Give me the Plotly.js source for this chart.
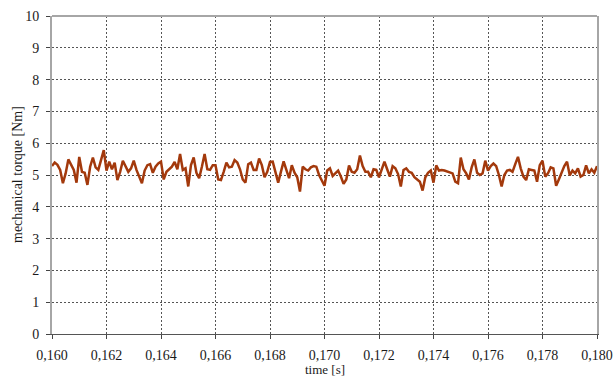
<!DOCTYPE html>
<html>
<head>
<meta charset="utf-8">
<script src="https://cdn.plot.ly/plotly-3.0.1.min.js"></script>
<style>
  html, body { margin: 0; padding: 0; background: #fff; }
  #chart { width: 615px; height: 378px; }
</style>
</head>
<body>
<div id="chart"></div>
<script>
// Sampling start and interval of the torque record (s)
const tStart = 0.160;
const tStep = 0.0001;

// Mechanical torque samples (Nm), one per tStep
const torque = [
  5.28, 5.39, 5.32, 5.16, 4.74, 5.05, 5.49, 5.31, 5.16, 4.76,
  5.57, 5.10, 5.07, 4.69, 5.26, 5.55, 5.24, 5.16, 5.52, 5.78,
  5.14, 5.42, 5.18, 5.39, 4.84, 5.10, 5.45, 5.26, 5.10, 5.21,
  5.45, 5.16, 4.97, 4.74, 5.14, 5.31, 5.34, 5.07, 5.26, 5.36,
  5.42, 4.86, 5.10, 5.18, 5.26, 5.41, 5.18, 5.66, 5.16, 5.21,
  4.64, 5.31, 5.55, 5.07, 4.90, 5.26, 5.66, 5.18, 5.16, 5.31,
  5.31, 4.86, 4.84, 5.10, 5.39, 5.24, 5.26, 5.47, 5.39, 5.18,
  4.86, 4.76, 5.34, 5.39, 5.16, 5.16, 5.52, 5.31, 4.93, 5.10,
  5.41, 5.42, 5.10, 4.76, 5.10, 5.43, 5.16, 4.90, 5.31, 5.07,
  4.93, 4.48, 5.26, 5.18, 5.14, 5.24, 5.28, 5.26, 5.00, 4.84,
  4.66, 5.14, 5.21, 4.97, 5.07, 5.14, 4.95, 4.72, 4.86, 5.30,
  5.10, 5.07, 5.18, 5.61, 5.28, 5.10, 5.10, 4.93, 5.18, 5.16,
  4.93, 5.16, 5.42, 5.18, 4.95, 5.28, 5.21, 5.03, 4.64, 5.16,
  5.21, 5.10, 5.07, 4.93, 4.86, 4.79, 4.51, 4.93, 5.07, 5.14,
  4.76, 5.30, 5.14, 5.16, 5.14, 5.11, 5.07, 5.05, 4.79, 4.74,
  5.55, 5.18, 5.05, 4.86, 5.24, 5.49, 5.07, 5.00, 5.05, 5.45,
  5.14, 5.28, 5.36, 5.28, 5.00, 4.64, 5.00, 5.14, 5.16, 5.10,
  5.34, 5.57, 5.21, 4.95, 4.84, 5.18, 5.16, 5.14, 4.79, 5.31,
  5.45, 4.95, 5.05, 5.24, 5.21, 4.66, 4.86, 5.09, 5.28, 5.42,
  4.99, 5.14, 5.05, 5.21, 4.95, 5.00, 5.30, 5.05, 5.18, 5.07,
  5.28
];

// Time stamps for each torque sample
const time = torque.map((_, i) => +(tStart + i * tStep).toFixed(5));

const xTicks = [0.160, 0.162, 0.164, 0.166, 0.168, 0.170, 0.172, 0.174, 0.176, 0.178, 0.180];
const yTicks = [0, 1, 2, 3, 4, 5, 6, 7, 8, 9, 10];

const xTitle = 'time [s]';
const yTitle = 'mechanical torque [Nm]';

const font = { family: '"Liberation Serif", "Times New Roman", serif', size: 14, color: '#1a1a1a' };
const titleFont = { family: font.family, size: 13, color: font.color };
const gridColor = '#555';
const frameColor = '#a6a6a6';

const trace = {
  x: time,
  y: torque,
  type: 'scatter',
  mode: 'lines',
  line: { color: '#a3390c', width: 2.5 },
  hoverinfo: 'skip'
};

const layout = {
  width: 615,
  height: 378,
  margin: { l: 52, r: 18, t: 16, b: 44 },
  paper_bgcolor: '#fff',
  plot_bgcolor: '#fff',
  separators: ',.',
  font: font,
  showlegend: false,
  xaxis: {
    range: [0.160, 0.180],
    tickvals: xTicks,
    tickformat: '.3f',
    ticks: 'outside',
    ticklen: 4,
    tickcolor: '#444',
    ticklabelstandoff: 4,
    showline: true,
    linecolor: '#555',
    linewidth: 1,
    showgrid: true,
    gridcolor: gridColor,
    gridwidth: 1,
    griddash: '2px,2px',
    zeroline: false,
    automargin: false,
    tickfont: font
  },
  yaxis: {
    range: [0, 10],
    tickvals: yTicks,
    ticks: 'outside',
    ticklen: 4,
    tickcolor: '#444',
    ticklabelstandoff: 4,
    showline: true,
    linecolor: frameColor,
    linewidth: 2,
    mirror: true,
    showgrid: true,
    gridcolor: gridColor,
    gridwidth: 1,
    griddash: '2px,2px',
    zeroline: false,
    automargin: false,
    tickfont: font
  },
  // Axis titles placed as annotations so they sit clear of the tick labels
  annotations: [
    {
      text: xTitle, xref: 'paper', yref: 'paper', x: 0.5, y: 0,
      xanchor: 'center', yanchor: 'bottom', yshift: -44, borderpad: 0,
      showarrow: false, font: titleFont
    },
    {
      text: yTitle, xref: 'paper', yref: 'paper', x: 0, y: 0.5,
      xanchor: 'center', yanchor: 'middle', xshift: -35, textangle: -90,
      borderpad: 0, showarrow: false, font: font
    }
  ],
  shapes: [
    {
      type: 'line', xref: 'paper', yref: 'paper',
      x0: 0, x1: 1, y0: 1, y1: 1,
      line: { color: frameColor, width: 2 }
    }
  ]
};

Plotly.newPlot('chart', [trace], layout, { displayModeBar: false, staticPlot: true });
</script>
</body>
</html>
